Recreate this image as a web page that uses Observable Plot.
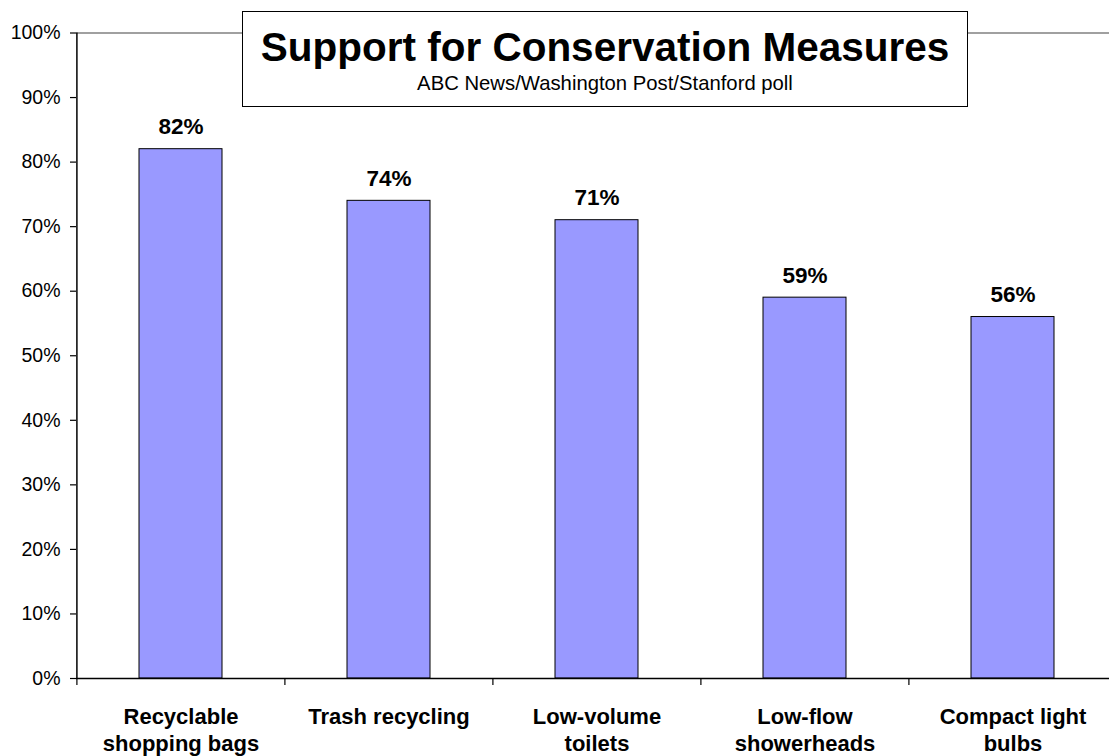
<!DOCTYPE html>
<html>
<head>
<meta charset="utf-8">
<script src="https://cdn.jsdelivr.net/npm/d3@7"></script>
<script src="https://cdn.jsdelivr.net/npm/@observablehq/plot@0.6"></script>
<style>
  html, body { margin: 0; padding: 0; background: #fff; overflow: hidden; }
  #wrap { position: relative; width: 1109px; height: 756px; font-family: "Liberation Sans", Arial, sans-serif; }
  #titlebox { position: absolute; left: 242px; top: 11px; width: 726px; height: 96px; border: 1px solid #000; background: #fff; box-sizing: border-box; text-align: center; }
  #titlebox .t { font-weight: bold; font-size: 40.5px; margin-top: 15px; line-height: 40px; }
  #titlebox .s { font-size: 20.3px; margin-top: 5px; line-height: 22px; }
</style>
</head>
<body>
<div id="wrap">
  <div id="chart"></div>
  <div id="titlebox"><div class="t">Support for Conservation Measures</div><div class="s">ABC News/Washington Post/Stanford poll</div></div>
</div>
<script>
const categories = ["Recyclable shopping bags", "Trash recycling", "Low-volume toilets", "Low-flow showerheads", "Compact light bulbs"];
const labels = ["Recyclable\nshopping bags", "Trash recycling", "Low-volume\ntoilets", "Low-flow\nshowerheads", "Compact light\nbulbs"];
const values = [82, 74, 71, 59, 56];
const yTicks = [0, 10, 20, 30, 40, 50, 60, 70, 80, 90, 100];

const data = categories.map((c, i) => ({cat: c, label: labels[i], value: values[i]}));
const labelOf = new Map(data.map(d => [d.cat, d.label]));

const chart = Plot.plot({
  width: 1109,
  height: 756,
  marginLeft: 76,
  marginTop: 32.5,
  marginBottom: 78,
  marginRight: -8,
  style: {fontFamily: "'Liberation Sans', Arial, sans-serif", background: "#fff", overflow: "hidden"},
  x: {domain: categories, paddingInner: 0.6, paddingOuter: 0.3, axis: null, label: null},
  y: {domain: [0, 100], axis: null, label: null},
  marks: [
    Plot.ruleY([100], {stroke: "#808080", strokeWidth: 1.5}),
    Plot.barY(data, {x: "cat", y: "value", fill: "#9999ff", stroke: "#000", strokeWidth: 1}),
    Plot.ruleY([0], {stroke: "#000", strokeWidth: 1.5}),
    Plot.ruleX([categories[0]], {x: d => d, dx: -104.1, y1: 0, y2: 100, stroke: "#000", strokeWidth: 1.5}),
    Plot.axisY({ticks: yTicks, label: null, tickSize: 6, tickPadding: 10, tickFormat: d => d + "%", fontSize: 19.5, stroke: "#000", strokeWidth: 1.2, color: "#000"}),
    Plot.axisX({label: null, tickSize: 7, dx: -104.1, tickFormat: () => "", stroke: "#000", strokeWidth: 1.2}),
    Plot.axisX({label: null, tickSize: 0, tickPadding: 26, tickFormat: d => labelOf.get(d), fontSize: 22, fontWeight: "bold", lineHeight: 1.23, fill: "#000"}),
    Plot.text(data, {x: "cat", y: "value", text: d => d.value + "%", lineAnchor: "bottom", dy: -15, fontSize: 22.5, fontWeight: "bold", fill: "#000"})
  ]
});
document.getElementById("chart").appendChild(chart);
</script>
</body>
</html>
